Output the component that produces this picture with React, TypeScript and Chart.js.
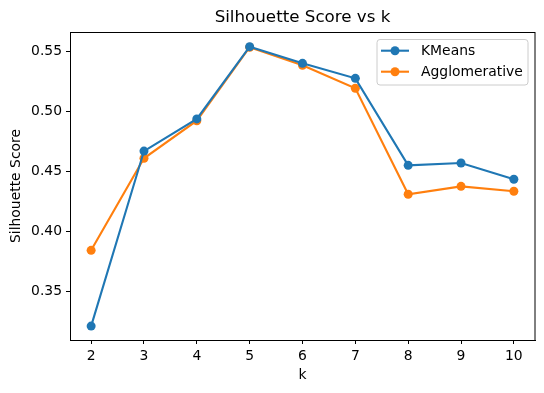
import React, { useEffect, useRef } from "react";
import { Chart, registerables } from "chart.js";

Chart.register(...registerables);

const kValues = [2, 3, 4, 5, 6, 7, 8, 9, 10];
const kmeansScores = [0.3214, 0.4672, 0.494, 0.5542, 0.5403, 0.5278, 0.4553, 0.4573, 0.4437];
const aggloScores = [0.3845, 0.4612, 0.4925, 0.5537, 0.5387, 0.5195, 0.4312, 0.4378, 0.4337];
const xTicks = [2, 3, 4, 5, 6, 7, 8, 9, 10];
const yTicks = [0.35, 0.4, 0.45, 0.5, 0.55];
const seriesLabels = ["KMeans", "Agglomerative"];
const seriesColors = ["#1f77b4", "#ff7f0e"];
const titleText = "Silhouette Score vs k";
const xTitle = "k";
const yTitle = "Silhouette Score";

const FONT = "DejaVu Sans";
const MARKER_R = 4.5;

const decorPlugin = {
  id: "decor",
  afterDraw(chart: any) {
    const { ctx, chartArea } = chart;
    const { left, right, top, bottom } = chartArea;
    ctx.save();
    // frame
    ctx.strokeStyle = "#000";
    ctx.lineWidth = 1;
    ctx.strokeRect(Math.round(left) + 0.5, Math.round(top) + 0.5, Math.round(right - left) - 0.5, Math.round(bottom - top));
    // title
    ctx.fillStyle = "#000";
    ctx.font = `16.7px ${FONT}`;
    ctx.textAlign = "center";
    ctx.textBaseline = "middle";
    ctx.fillText(titleText, (left + right) / 2, 18);
    // x title
    ctx.font = `13.9px ${FONT}`;
    ctx.fillText(xTitle, (left + right) / 2, 375);
    // y title
    ctx.save();
    ctx.translate(16, (top + bottom) / 2);
    ctx.rotate(-Math.PI / 2);
    ctx.fillText(yTitle, 0, 0);
    ctx.restore();
    // legend
    const bx = 377, by = 39.5, bw = 151, bh = 45.5;
    ctx.beginPath();
    const r = 3;
    ctx.moveTo(bx + r, by);
    ctx.lineTo(bx + bw - r, by);
    ctx.quadraticCurveTo(bx + bw, by, bx + bw, by + r);
    ctx.lineTo(bx + bw, by + bh - r);
    ctx.quadraticCurveTo(bx + bw, by + bh, bx + bw - r, by + bh);
    ctx.lineTo(bx + r, by + bh);
    ctx.quadraticCurveTo(bx, by + bh, bx, by + bh - r);
    ctx.lineTo(bx, by + r);
    ctx.quadraticCurveTo(bx, by, bx + r, by);
    ctx.closePath();
    ctx.fillStyle = "rgba(255,255,255,0.8)";
    ctx.fill();
    ctx.strokeStyle = "#cccccc";
    ctx.lineWidth = 1;
    ctx.stroke();
    const rows = [50.7, 71.7];
    chart.data.datasets.forEach((ds: any, i: number) => {
      const y = rows[i];
      ctx.strokeStyle = ds.borderColor;
      ctx.lineWidth = 2.1;
      ctx.beginPath();
      ctx.moveTo(381, y);
      ctx.lineTo(409, y);
      ctx.stroke();
      ctx.fillStyle = ds.borderColor;
      ctx.beginPath();
      ctx.arc(395, y, MARKER_R, 0, Math.PI * 2);
      ctx.fill();
      ctx.fillStyle = "#000";
      ctx.font = `13.9px ${FONT}`;
      ctx.textAlign = "left";
      ctx.textBaseline = "middle";
      ctx.fillText(ds.label, 421, y + 0.5);
    });
    ctx.restore();
  },
};

export default function App() {
  const ref = useRef<HTMLCanvasElement>(null);
  useEffect(() => {
    if (!ref.current) return;
    const mk = (vals: number[]) => kValues.map((k, i) => ({ x: k, y: vals[i] }));
    const mkDs = (i: number, vals: number[]) => ({
      label: seriesLabels[i],
      data: mk(vals),
      borderColor: seriesColors[i],
      backgroundColor: seriesColors[i],
      borderWidth: 2.1,
      pointRadius: MARKER_R,
      pointHoverRadius: MARKER_R,
      pointBorderWidth: 0,
      tension: 0,
    });
    const chart = new Chart(ref.current, {
      type: "line",
      data: {
        datasets: [mkDs(0, kmeansScores), mkDs(1, aggloScores)],
      },
      options: {
        responsive: false,
        animation: false,
        devicePixelRatio: 1,
        layout: { padding: { top: 32, right: 9, left: 0, bottom: 0 } },
        plugins: { legend: { display: false }, title: { display: false }, tooltip: { enabled: false } },
        scales: {
          x: {
            type: "linear",
            min: 1.6,
            max: 10.4,
            afterBuildTicks: (s: any) => {
              s.ticks = xTicks.map((v) => ({ value: v }));
            },
            afterFit: (s: any) => {
              s.height = 53;
            },
            grid: { drawOnChartArea: false, drawTicks: true, tickLength: 4, color: "#000", tickWidth: 1 },
            border: { display: true, color: "#000", width: 1 },
            ticks: {
              color: "#000",
              padding: 4,
              maxRotation: 0,
              autoSkip: false,
              font: { family: FONT, size: 13.9 },
              callback: (v: any) => String(v),
            },
          },
          y: {
            type: "linear",
            min: 0.3098,
            max: 0.5664,
            afterBuildTicks: (s: any) => {
              s.ticks = yTicks.map((v) => ({ value: v }));
            },
            afterFit: (s: any) => {
              s.width = 70;
            },
            grid: { drawOnChartArea: false, drawTicks: true, tickLength: 4, color: "#000", tickWidth: 1 },
            border: { display: true, color: "#000", width: 1 },
            ticks: {
              color: "#000",
              padding: 4,
              autoSkip: false,
              font: { family: FONT, size: 13.9 },
              callback: (v: any) => Number(v).toFixed(2),
            },
          },
        },
      },
      plugins: [decorPlugin],
    });
    return () => chart.destroy();
  }, []);
  return (
    <div style={{ position: "fixed", left: 0, top: 0, width: 544, height: 393, background: "#fff" }}>
      <canvas ref={ref} width={544} height={393} style={{ display: "block" }} />
    </div>
  );
}
